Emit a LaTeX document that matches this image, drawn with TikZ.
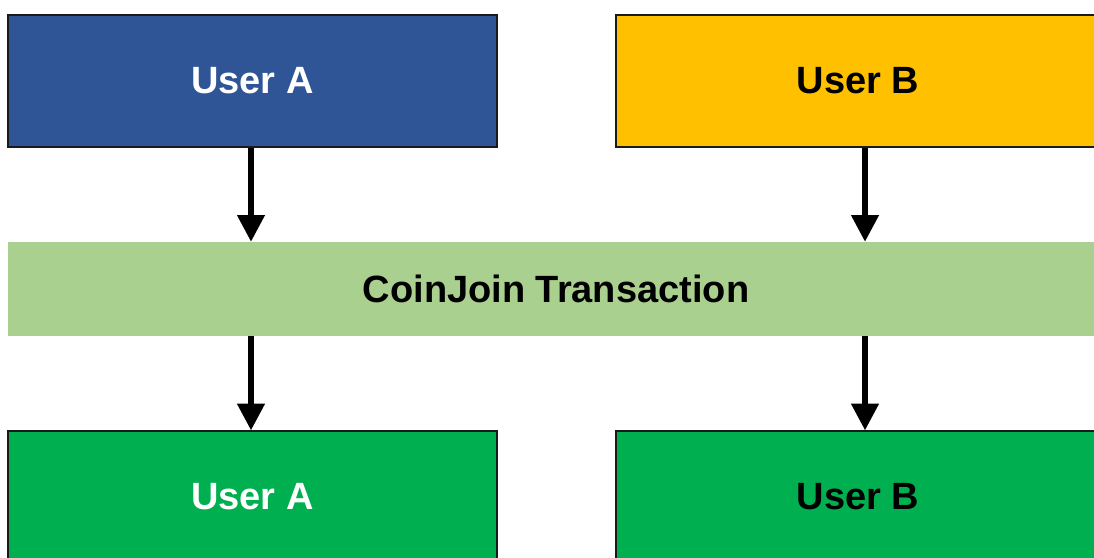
\documentclass[tikz,border=0pt]{standalone}
\usepackage{fontspec}
\setmainfont{Liberation Sans}
\usetikzlibrary{arrows.meta}
\definecolor{ublue}{HTML}{2F5597}
\definecolor{uyellow}{HTML}{FFC000}
\definecolor{ugreen}{HTML}{00B050}
\definecolor{lgreen}{HTML}{A9D08E}
\definecolor{edge}{HTML}{1A1A1A}
\begin{document}
\begin{tikzpicture}[x=0.75pt,y=-0.75pt,
  userbox/.style={draw=edge,line width=1pt,minimum width=366.75pt,minimum height=99pt,inner sep=0pt,font=\bfseries\fontsize{28.5}{34}\selectfont},
  userboxb/.style={userbox,minimum width=363pt},
  band/.style={fill=lgreen,minimum width=822pt,minimum height=70.5pt,inner sep=0pt,font=\bfseries\fontsize{28.5}{34}\selectfont},
  flow/.style={line width=4pt,-{Triangle[width=20pt,length=20pt]}}]
\useasboundingbox (0,0) rectangle (1094,557);
\node[userbox,fill=ublue,text=white] (ua) at (252.5,81) {User A};
\node[userboxb,fill=uyellow,text=black] (ub) at (858,81) {User B};
\node[band] (cj) at (556,289) {CoinJoin Transaction};
\node[userbox,fill=ugreen,text=white] (oa) at (252.5,497) {User A};
\node[userboxb,fill=ugreen,text=black] (ob) at (858,497) {User B};
\draw[flow] (ua.south -| 251,0) -- (cj.north -| 251,0);
\draw[flow] (ub.south -| 865,0) -- (cj.north -| 865,0);
\draw[flow] (cj.south -| 251,0) -- (oa.north -| 251,0);
\draw[flow] (cj.south -| 865,0) -- (ob.north -| 865,0);
\end{tikzpicture}
\end{document}
